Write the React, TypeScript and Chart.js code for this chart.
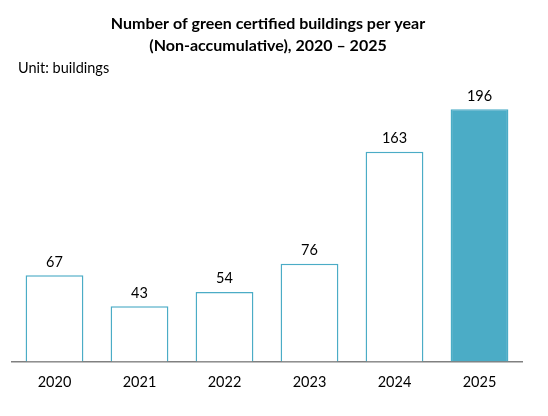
import React, { useEffect, useRef } from "react";
import Chart from "chart.js/auto";

const years = ["2020", "2021", "2022", "2023", "2024", "2025"];
const buildings = [67, 43, 54, 76, 163, 196];
const titleLines = ["Number of green certified buildings per year", "(Non-accumulative), 2020 – 2025"];
const unitLabel = "Unit: buildings";

const TEAL = "#4BACC6";
const FONT = "Lato, 'Open Sans', sans-serif";

const textPlugin = {
  id: "texts",
  afterDraw(chart) {
    const { ctx } = chart;
    ctx.save();
    ctx.fillStyle = "#000";
    ctx.textAlign = "center";
    ctx.textBaseline = "middle";
    ctx.font = `bold 16px ${FONT}`;
    ctx.fillText(titleLines[0], 268, 24);
    ctx.fillText(titleLines[1], 268, 46);
    ctx.textAlign = "left";
    ctx.font = `14.5px ${FONT}`;
    ctx.fillText(unitLabel, 18, 68);

    // value labels above bars
    ctx.textAlign = "center";
    ctx.textBaseline = "bottom";
    ctx.font = `14.5px ${FONT}`;
    const meta = chart.getDatasetMeta(0);
    meta.data.forEach((bar, i) => {
      ctx.fillText(String(buildings[i]), bar.x, bar.y - 6);
    });
    ctx.restore();
  },
};

const Graph = () => {
  const chartContainer = useRef(null);
  const chartInstance = useRef(null);

  useEffect(() => {
    if (chartInstance.current) {
      chartInstance.current.destroy();
    }

    const ctx = chartContainer.current.getContext("2d");
    chartInstance.current = new Chart(ctx, {
      type: "bar",
      data: {
        labels: years,
        datasets: [
          {
            data: buildings,
            backgroundColor: buildings.map((_, i) => (i === buildings.length - 1 ? TEAL : "#ffffff")),
            borderColor: TEAL,
            borderWidth: 1.5,
            categoryPercentage: 1,
            barPercentage: 0.68,
          },
        ],
      },
      options: {
        responsive: false,
        animation: false,
        layout: { padding: { top: 104, left: 12, right: 26, bottom: 13 } },
        plugins: {
          legend: { display: false },
          tooltip: { enabled: false },
        },
        scales: {
          x: {
            grid: { display: false, drawTicks: false },
            border: { display: true, color: "#808080", width: 1.5 },
            ticks: { color: "#000", padding: 12, font: { family: FONT, size: 14.5 } },
          },
          y: {
            display: false,
            min: 0,
            max: 200,
          },
        },
      },
      plugins: [textPlugin],
    });

    return () => {
      if (chartInstance.current) {
        chartInstance.current.destroy();
      }
    };
  }, []);

  return (
    <div style={{ position: "absolute", left: 0, top: 0, width: 548, height: 416, background: "#fff" }}>
      <canvas ref={chartContainer} width="548" height="416"></canvas>
    </div>
  );
};

export default function App() {
  return <Graph />;
}
